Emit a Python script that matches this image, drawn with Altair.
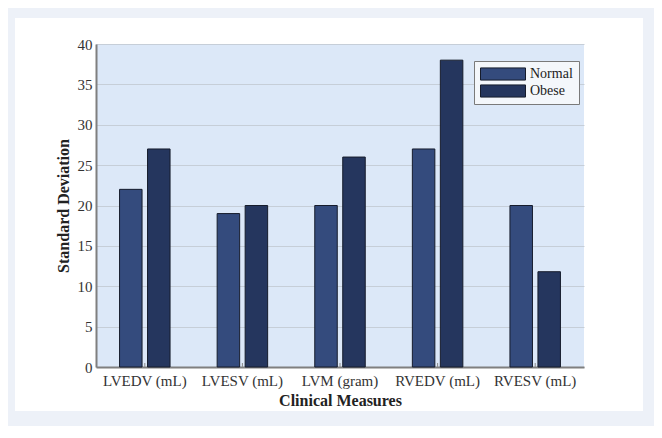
import altair as alt
import pandas as pd

measures = ["LVEDV (mL)", "LVESV (mL)", "LVM (gram)", "RVEDV (mL)", "RVESV (mL)"]
groups = ["Normal", "Obese"]
normal_sd = [22, 19, 20, 27, 20]
obese_sd = [27, 20, 26, 38, 11.8]
y_ticks = [0, 5, 10, 15, 20, 25, 30, 35, 40]

rows = []
for m, n, o in zip(measures, normal_sd, obese_sd):
    rows.append({"measure": m, "group": "Normal", "value": n})
    rows.append({"measure": m, "group": "Obese", "value": o})
df = pd.DataFrame(rows)
cat_df = pd.DataFrame({"measure": measures})
one = pd.DataFrame({"k": [0]})

FONT = "Liberation Serif"
PAGE_GRAY = "#edf1f8"

def strip(x1, x2, y1, y2):
    return alt.Chart(one).mark_rect(color=PAGE_GRAY).encode(
        x=alt.value(x1), x2=alt.value(x2), y=alt.value(y1), y2=alt.value(y2)
    )

strips = [
    strip(-88, -81, -36, 382),
    strip(-88, 558, -36, -26),
    strip(547, 558, -36, 382),
    strip(-88, 558, 367, 382),
]

x_enc = alt.X(
    "measure:N",
    sort=measures,
    scale=alt.Scale(paddingInner=0.4826, paddingOuter=0.2413),
    axis=alt.Axis(
        title="Clinical Measures",
        labelAngle=0,
        ticks=False,
        domainColor="#7f7f7f",
        domainWidth=2,
        labelFont=FONT,
        labelFontSize=15,
        labelColor="#333333",
        labelPadding=6,
        titleFont=FONT,
        titleFontSize=16,
        titleFontWeight="bold",
        titleColor="#222222",
        titlePadding=4,
        grid=False,
    ),
)

bars = alt.Chart(df).mark_bar(stroke="#161c2c", strokeWidth=1).encode(
    x=x_enc,
    xOffset=alt.XOffset("group:N", sort=groups,
                        scale=alt.Scale(paddingInner=0.196, paddingOuter=0)),
    y=alt.Y(
        "value:Q",
        scale=alt.Scale(domain=[0, 40], nice=False),
        axis=alt.Axis(
            title="Standard Deviation",
            values=y_ticks,
            grid=True,
            gridColor="#c6ced8",
            gridWidth=1,
            ticks=False,
            domainColor="#7f7f7f",
            domainWidth=2,
            labelFont=FONT,
            labelFontSize=15,
            labelColor="#333333",
            labelPadding=4,
            titleFont=FONT,
            titleFontSize=16,
            titleFontWeight="bold",
            titleColor="#222222",
            titlePadding=6,
        ),
    ),
    color=alt.Color(
        "group:N",
        sort=groups,
        scale=alt.Scale(domain=groups, range=["#344b7d", "#25365e"]),
        legend=alt.Legend(
            title=None,
            orient="none",
            legendX=378,
            legendY=17,
            symbolType="M-1,-0.27H1V0.27H-1Z",
            symbolSize=2025,
            symbolStrokeColor="#161c2c",
            symbolStrokeWidth=1,
            clipHeight=14,
            rowPadding=3,
            labelOffset=4,
            labelFont=FONT,
            labelFontSize=14,
            labelColor="#222222",
            padding=6,
            strokeColor="#7a7a7a",
            fillColor="#f4f7fb",
            cornerRadius=0,
        ),
    ),
)

center_ticks = alt.Chart(cat_df).mark_rule(color="#8a8a8a", strokeWidth=1).encode(
    x=alt.X("measure:N", sort=measures),
    y=alt.value(323),
    y2=alt.value(319),
)

chart = alt.layer(*strips, bars, center_ticks).properties(
    width=488,
    height=323,
    autosize=alt.AutoSizeParams(type="none"),
    padding={"left": 88, "top": 36, "right": 70, "bottom": 59},
    background="white",
).configure_view(fill="#dce8f8", stroke=None)

chart.save("out.html", embed_options={"renderer": "svg", "actions": False})
